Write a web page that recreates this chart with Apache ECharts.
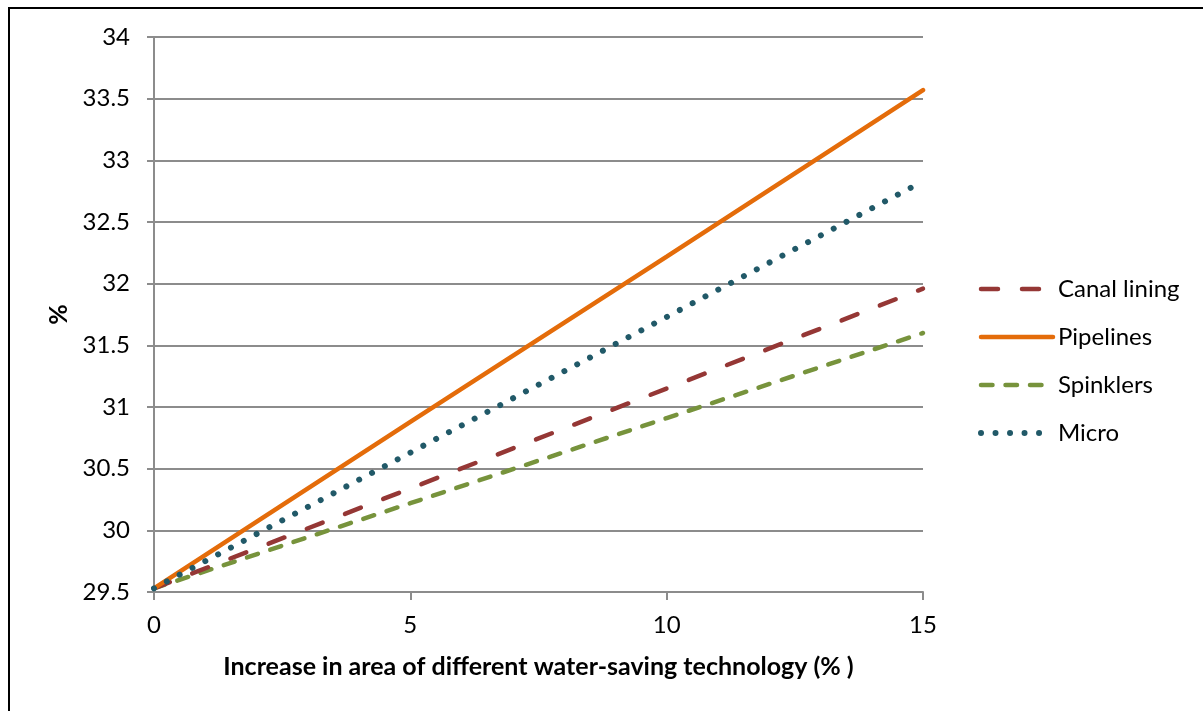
<!DOCTYPE html>
<html>
<head>
<meta charset="utf-8">
<script src="https://cdn.jsdelivr.net/npm/echarts@6/dist/echarts.min.js"></script>
<style>
html,body{margin:0;padding:0;background:#fff;}
#chart{width:1203px;height:711px;}
</style>
</head>
<body>
<div id="chart"></div>
<script>
const xValues = [0, 5, 10, 15];
const canalLining = [29.53, 30.34, 31.15, 31.96];
const pipelines = [29.53, 30.88, 32.22, 33.57];
const spinklers = [29.53, 30.22, 30.91, 31.60];
const micro = [29.53, 30.63, 31.73, 32.83];
const seriesNames = ['Canal lining', 'Pipelines', 'Spinklers', 'Micro'];
const xAxisTitle = 'Increase in area of different water-saving technology (% )';
const yAxisTitle = '%';

const FONT = 'Lato, "Open Sans", sans-serif';
const pairs = v => xValues.map((x, i) => [x, v[i]]);

const chart = echarts.init(document.getElementById('chart'), null, {renderer: 'canvas'});
const gridColor = '#8c8c8c';
chart.setOption({
  animation: false,
  backgroundColor: '#fff',
  textStyle: {fontFamily: FONT},
  graphic: [{
    type: 'rect', silent: true, z: 100,
    shape: {x: 9, y: 8, width: 1300, height: 800},
    style: {fill: 'none', stroke: '#000', lineWidth: 2}
  }],
  grid: {left: 154, top: 37, right: 280, bottom: 119, containLabel: false},
  legend: {
    orient: 'vertical',
    left: 973, top: 272,
    itemWidth: 72, itemHeight: 14, itemGap: 24,
    itemStyle: {opacity: 0},
    lineStyle: {width: 4.5},
    textStyle: {fontFamily: FONT, fontSize: 24, color: '#000', lineHeight: 24},
    data: [
      {name: seriesNames[0]},
      {name: seriesNames[1]},
      {name: seriesNames[2]},
      {name: seriesNames[3], lineStyle: {width: 6}}
    ]
  },
  xAxis: {
    type: 'value', min: 0, max: 15, interval: 5,
    name: xAxisTitle, nameLocation: 'middle', nameGap: 62,
    nameTextStyle: {fontFamily: FONT, fontSize: 25, fontWeight: 'bold', color: '#000'},
    axisLine: {show: true, lineStyle: {color: gridColor, width: 2}},
    axisTick: {show: true, length: 8, lineStyle: {color: gridColor, width: 2}},
    axisLabel: {fontFamily: FONT, fontSize: 24, color: '#000', margin: 21},
    splitLine: {show: false}
  },
  yAxis: {
    type: 'value', min: 29.5, max: 34, interval: 0.5,
    name: yAxisTitle, nameLocation: 'middle', nameGap: 82, nameRotate: 90,
    nameTextStyle: {fontFamily: FONT, fontSize: 25, fontWeight: 'bold', color: '#000'},
    axisLine: {show: true, lineStyle: {color: gridColor, width: 2}},
    axisTick: {show: true, length: 7, lineStyle: {color: gridColor, width: 2}},
    axisLabel: {fontFamily: FONT, fontSize: 24, color: '#000', margin: 24},
    splitLine: {show: true, lineStyle: {color: gridColor, width: 2}}
  },
  series: [
    {name: seriesNames[0], type: 'line', data: pairs(canalLining), symbol: 'none', z: 3,
     itemStyle: {color: '#953735'},
     lineStyle: {color: '#953735', width: 4.5, type: [17, 24], cap: 'round'}},
    {name: seriesNames[1], type: 'line', data: pairs(pipelines), symbol: 'none', z: 4,
     itemStyle: {color: '#e46c0a'},
     lineStyle: {color: '#e46c0a', width: 4.5, type: 'solid', cap: 'round'}},
    {name: seriesNames[2], type: 'line', data: pairs(spinklers), symbol: 'none', z: 2,
     itemStyle: {color: '#77933c'},
     lineStyle: {color: '#77933c', width: 4.5, type: [11.5, 13], cap: 'round'}},
    {name: seriesNames[3], type: 'line', data: pairs(micro), symbol: 'none', z: 5,
     itemStyle: {color: '#215968'},
     lineStyle: {color: '#215968', width: 6, type: [0.01, 14.5], cap: 'round'}}
  ]
});
</script>
</body>
</html>
